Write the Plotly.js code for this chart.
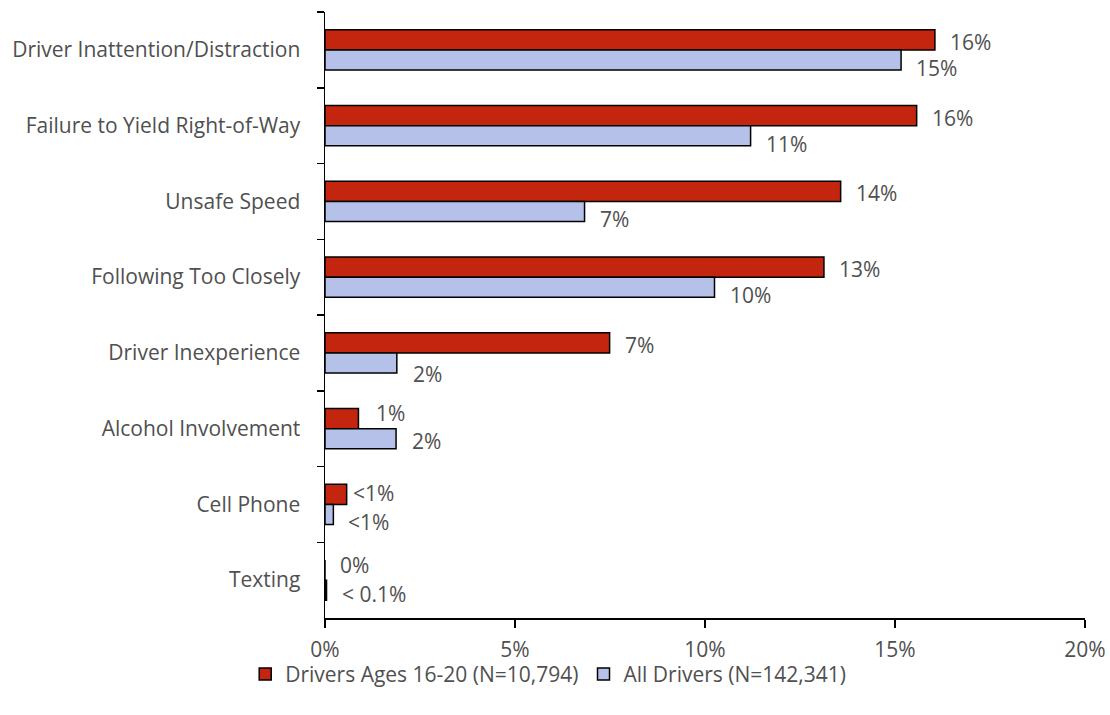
<!DOCTYPE html>
<html>
<head>
<meta charset="utf-8">
<script src="https://cdn.plot.ly/plotly-3.0.1.min.js"></script>
<style>
  html, body { margin: 0; padding: 0; background: #ffffff; }
  #chart { width: 1110px; height: 715px; }
</style>
</head>
<body>
<div id="chart"></div>
<script>
// Contributing factors in crashes: young drivers vs. all drivers (percent of drivers)
const categories = [
  "Driver Inattention/Distraction",
  "Failure to Yield Right-of-Way",
  "Unsafe Speed",
  "Following Too Closely",
  "Driver Inexperience",
  "Alcohol Involvement",
  "Cell Phone",
  "Texting"
];
const seriesNames = ["Drivers Ages 16-20 (N=10,794)", "All Drivers (N=142,341)"];
const youngDrivers = [16.05, 15.57, 13.57, 13.13, 7.49, 0.88, 0.57, 0];
const allDrivers   = [15.16, 11.20, 6.83, 10.25, 1.89, 1.87, 0.22, 0.04];
const youngLabels  = ["16%", "16%", "14%", "13%", "7%", "1%", "<1%", "0%"];
const allLabels    = ["15%", "11%", "7%", "10%", "2%", "2%", "<1%", "< 0.1%"];
const xTicks = [0, 5, 10, 15, 20];

const FONT = "'Open Sans', 'Noto Sans', sans-serif";
const TEXT_COLOR = "#505050";
const FONT_SIZE = 21;

const traces = [
  {
    type: "bar", orientation: "h", name: seriesNames[0],
    y: categories, x: youngDrivers,
    marker: { color: "#C3250F", line: { color: "#000000", width: 1.5 } },
    hoverinfo: "skip"
  },
  {
    type: "bar", orientation: "h", name: seriesNames[1],
    y: categories, x: allDrivers,
    marker: { color: "#B5C1E8", line: { color: "#000000", width: 1.5 } },
    hoverinfo: "skip"
  }
];

// value labels sit just past the end of each bar; a few short bars
// get nudged so their labels stay clear of the neighbouring bar
const labelShift = {
  young: { dx: 14, dy: 8, special: { 5: { dx: 17, dy: 16 }, 6: { dx: 5, dy: 11 }, 7: { dx: 14, dy: 15 } } },
  all:   { dx: 14, dy: -18, special: { 4: { dx: 15, dy: -21 }, 5: { dx: 15, dy: -12 }, 7: { dx: 14, dy: -14 } } }
};

function labelAnnotation(value, cat, text, cfg, i) {
  const s = cfg.special[i] || {};
  return {
    x: value, y: cat, xref: "x", yref: "y",
    text: text, showarrow: false,
    xanchor: "left", yanchor: "middle", borderpad: 0,
    xshift: s.dx !== undefined ? s.dx : cfg.dx,
    yshift: s.dy !== undefined ? s.dy : cfg.dy,
    font: { family: FONT, size: FONT_SIZE, color: TEXT_COLOR }
  };
}

const annotations = [];
categories.forEach((c, i) => {
  annotations.push(labelAnnotation(youngDrivers[i], c, youngLabels[i], labelShift.young, i));
  annotations.push(labelAnnotation(allDrivers[i], c, allLabels[i], labelShift.all, i));
});

const layout = {
  width: 1110, height: 715,
  margin: { l: 325, r: 25, t: 12, b: 97, pad: 0 },
  paper_bgcolor: "#ffffff", plot_bgcolor: "#ffffff",
  font: { family: FONT, size: FONT_SIZE, color: TEXT_COLOR },
  barmode: "group", bargap: 0.47, bargroupgap: 0,
  showlegend: true,
  legend: {
    orientation: "h", x: -0.105, xanchor: "left", y: -0.093, yanchor: "middle",
    bgcolor: "rgba(0,0,0,0)",
    font: { family: FONT, size: FONT_SIZE, color: TEXT_COLOR },
    itemwidth: 30, traceorder: "normal"
  },
  xaxis: {
    range: [0, 20], tickvals: xTicks, ticktext: xTicks.map(v => v + "%"),
    showgrid: false, zeroline: false,
    showline: true, linecolor: "#000000", linewidth: 1.5,
    ticks: "outside", ticklen: 8, tickwidth: 1.5, tickcolor: "#000000",
    ticklabelstandoff: 4,
    tickfont: { family: FONT, size: FONT_SIZE, color: TEXT_COLOR },
    fixedrange: true
  },
  yaxis: {
    type: "category", autorange: "reversed",
    showgrid: false, zeroline: false,
    showline: true, linecolor: "#000000", linewidth: 1.5,
    ticks: "outside", tickson: "boundaries", ticklen: 7, tickwidth: 1.5, tickcolor: "#000000",
    ticklabelstandoff: 19,
    tickfont: { family: FONT, size: FONT_SIZE, color: TEXT_COLOR },
    fixedrange: true
  },
  annotations: annotations
};

Plotly.newPlot("chart", traces, layout, { displayModeBar: false, staticPlot: true });
</script>
</body>
</html>
